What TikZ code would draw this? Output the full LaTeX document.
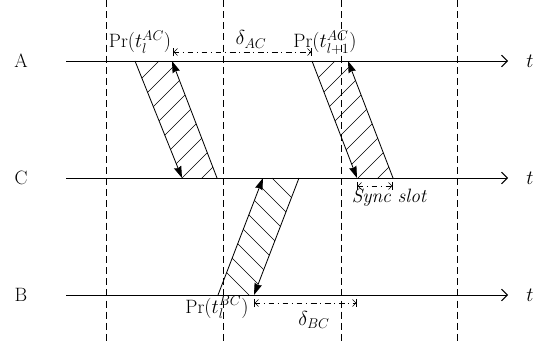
\documentclass[tikz,border=0pt]{standalone}
\usepackage{amsmath}
\usetikzlibrary{arrows.meta,positioning,calc}

\begin{document}
\begin{tikzpicture}[x=0.03cm, y=-0.03cm,
        timeline/.style={line width=0.8pt, -{Straight Barb[length=5pt,width=10pt]}},
        slotline/.style={dash pattern=on 6pt off 3.5pt, line width=0.6pt},
        msg/.style={line width=0.7pt, -{Stealth[length=10pt,width=6.5pt,inset=1pt]}},
        spanarrow/.style={dash pattern=on 5pt off 3pt on 1pt off 3pt, line width=0.5pt,
            {Bar[width=7pt]Straight Barb[length=3pt,width=6pt]}-{Straight Barb[length=3pt,width=6pt]Bar[width=7pt]}},
        hatch/.style={line width=0.55pt},
        lbl/.style={font=\fontsize{16.5}{20}\selectfont, inner sep=1pt},
      ]
      \useasboundingbox (0,0) rectangle (543,348);
      % stations and time axes
      \foreach \s/\y in {A/61,C/178,B/295} {
        \node [lbl] (\s) at (21,\y) {\s};
        \node [lbl] (t\s) at (530,\y) {$t$};
        \coordinate (\s0) at (66,\y);
        \coordinate (\s1) at (508,\y);
        \draw [timeline] (\s0) -- (\s1);
      }
      % slot boundaries
      \foreach \x [count=\i] in {106,223,341,457} {
        \coordinate (top\i) at (\x,0);
        \coordinate (bot\i) at (\x,344);
        \draw [slotline] (top\i) -- (bot\i);
      }
      % A -> C, slot l
      \coordinate (p1a) at (135,61);
      \coordinate (p1b) at (172,61);
      \coordinate (p1c) at (217,178);
      \coordinate (p1d) at (182,178);
      % A -> C, slot l+1
      \coordinate (p2a) at (312,61);
      \coordinate (p2b) at (348,61);
      \coordinate (p2c) at (393,178);
      \coordinate (p2d) at (357,178);
      % B -> C
      \coordinate (p3a) at (218,295);
      \coordinate (p3b) at (263,178);
      \coordinate (p3c) at (299,178);
      \coordinate (p3d) at (254,295);
      \begin{scope}
        \clip (p1a) -- (p1b) -- (p1c) -- (p1d) -- cycle;
        \foreach \c in {220,240,...,380} \draw [hatch] (\c-61,61) -- ++(-140,140);
      \end{scope}
      \begin{scope}
        \clip (p2a) -- (p2b) -- (p2c) -- (p2d) -- cycle;
        \foreach \c in {396,416,...,556} \draw [hatch] (\c-61,61) -- ++(-140,140);
      \end{scope}
      \begin{scope}
        \clip (p3a) -- (p3b) -- (p3c) -- (p3d) -- cycle;
        \foreach \c in {94,74,...,-46} \draw [hatch] (178+\c,178) -- ++(140,140);
      \end{scope}
      \draw [msg] (p1a) -- (p1d);
      \draw [msg] (p1c) -- (p1b);
      \draw [msg] (p2a) -- (p2d);
      \draw [msg] (p2c) -- (p2b);
      \draw [msg] (p3a) -- (p3b);
      \draw [msg] (p3c) -- (p3d);
      % intervals
      \coordinate (dA0) at (173,52);
      \coordinate (dA1) at (312,52);
      \coordinate (dB0) at (254,303);
      \coordinate (dB1) at (357,303);
      \coordinate (sy0) at (357,186);
      \coordinate (sy1) at (393,186);
      \draw [spanarrow] (dA0) -- (dA1);
      \draw [spanarrow] (dB0) -- (dB1);
      \draw [spanarrow] (sy0) -- (sy1);
      % labels
      \node [lbl, anchor=base] (prAC) at (140,48) {Pr$(t_l^{AC})$};
      \node [lbl, anchor=base] (prAC2) at (325,48) {Pr$(t_{l+1}^{AC})$};
      \node [lbl, anchor=base] (dAC) at (251,45) {$\delta_{AC}$};
      \node [lbl, anchor=base] (prBC) at (217,313) {Pr$(t_l^{BC})$};
      \node [lbl, anchor=base] (dBC) at (314,325) {$\delta_{BC}$};
      \node [lbl, anchor=base, font=\fontsize{16.5}{20}\selectfont\itshape] (sync) at (389,203) {Sync slot};
    \end{tikzpicture}
\end{document}
